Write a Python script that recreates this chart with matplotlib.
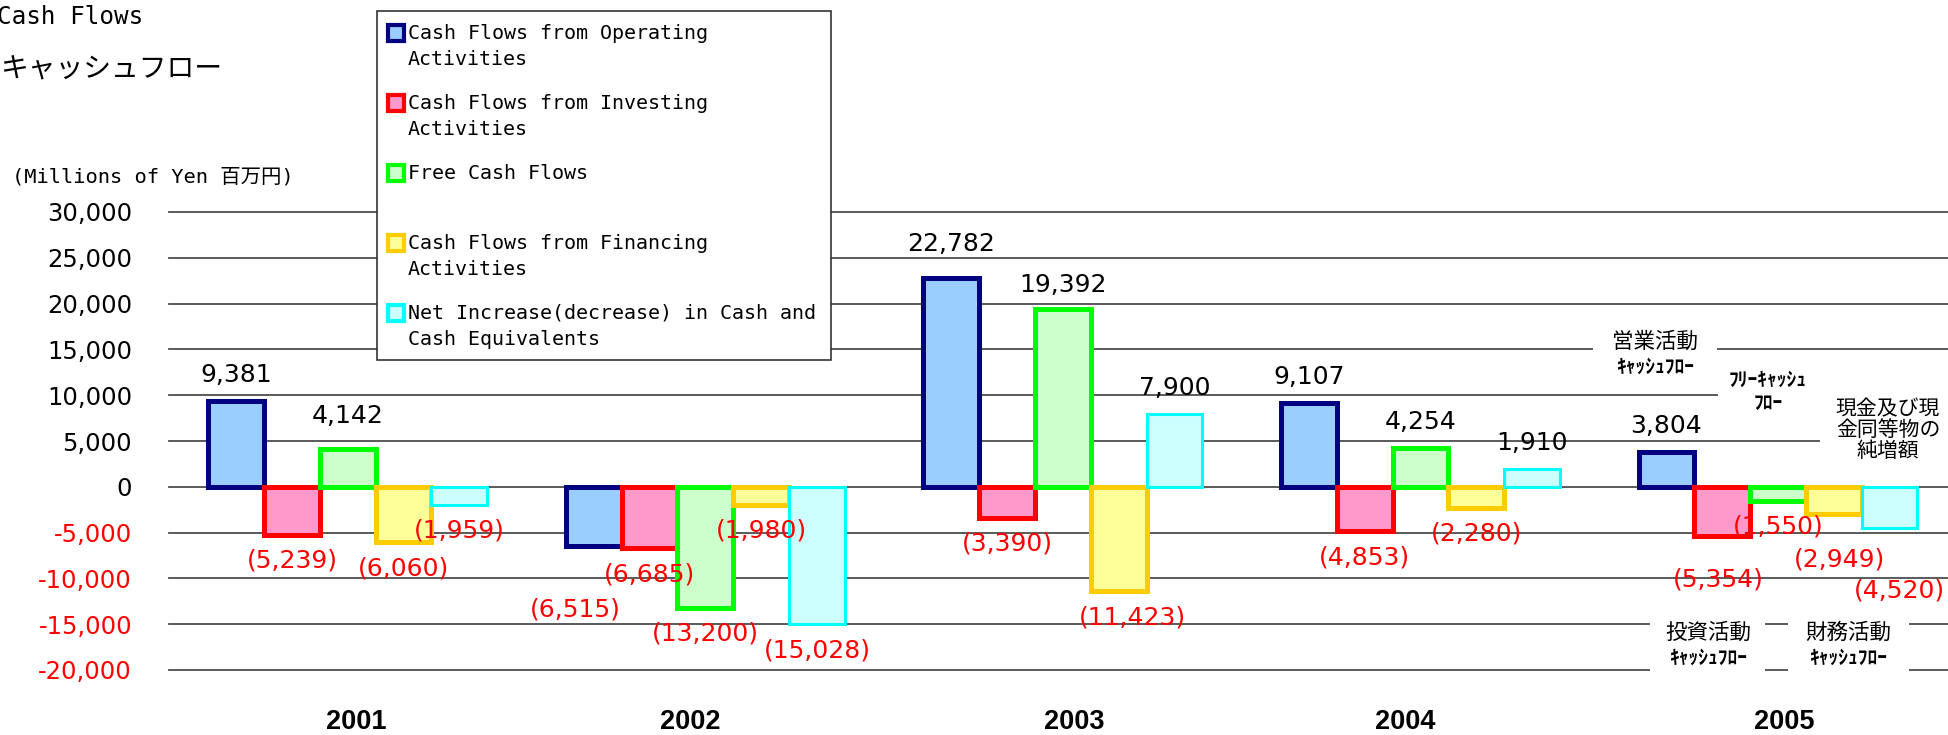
import matplotlib
matplotlib.use("Agg")
import matplotlib.pyplot as plt
from matplotlib.patches import Rectangle
from matplotlib.transforms import ScaledTranslation

# data (millions of yen)
years = ["2001", "2002", "2003", "2004", "2005"]
series_labels = [
    "Cash Flows from Operating\nActivities",
    "Cash Flows from Investing\nActivities",
    "Free Cash Flows\n ",
    "Cash Flows from Financing\nActivities",
    "Net Increase(decrease) in Cash and\nCash Equivalents",
]
operating = [9381, -6515, 22782, 9107, 3804]
investing = [-5239, -6685, -3390, -4853, -5354]
free_cf = [4142, -13200, 19392, 4254, -1550]
financing = [-6060, -1980, -11423, -2280, -2949]
net_change = [-1959, -15028, 7900, 1910, -4520]
yticks = [30000, 25000, 20000, 15000, 10000, 5000, 0, -5000, -10000, -15000, -20000]

face_colors = ["#99CCFF", "#FF99CC", "#CCFFCC", "#FFFF99", "#CCFFFF"]
edge_colors = ["#000080", "#FF0000", "#00FF00", "#FFCC00", "#00FFFF"]
edge_widths = [3.6, 3.6, 3.6, 3.6, 2.2]

# label nudges in pixels (series index, year index) -> (dx, dy)
label_shift = {
    (0, 1): (-18, 37), (2, 0): (0, 7), (0, 2): (0, 8), (2, 2): (0, -2),
    (3, 2): (14, 0), (1, 4): (-4, 18), (3, 4): (6, 20), (4, 4): (10, 36),
}
year_shift = [8, -15, 11, -15, 6]

W, H = 1948, 735
fig = plt.figure(figsize=(W / 100, H / 100), dpi=100)


def fx(x):
    return x / W


def fy(y):
    return 1 - y / H


ax = fig.add_axes([fx(169), fy(670), 1 - fx(169), fy(212) - fy(670)])
ax.set_xlim(-0.5, 4.4755)
ax.set_ylim(-20000, 30000)
for s in ax.spines.values():
    s.set_visible(False)

for v in yticks:
    ax.axhline(v, color="#4d4d4d", lw=1.3, zorder=0, clip_on=False)

all_series = [operating, investing, free_cf, financing, net_change]
w = 0.156
for i, vals in enumerate(all_series):
    xs = [j + (i - 2) * w for j in range(len(years))]
    ax.bar(xs, vals, width=w, color=face_colors[i], edgecolor=edge_colors[i],
           linewidth=edge_widths[i], zorder=2)
    for j, v in enumerate(vals):
        dx, dy = label_shift.get((i, j), (0, 0))
        if v >= 0:
            txt, col, off = f"{v:,}", "black", 26 + dy
        else:
            txt, col, off = f"({-v:,})", "red", -(26 + dy)
        ax.annotate(txt, xy=(xs[j], v), xytext=(dx, off), textcoords="offset pixels",
                    ha="center", va="center", fontsize=18, color=col,
                    family="DejaVu Sans", zorder=4)

ax.set_yticks(yticks)
ax.set_yticklabels([f"{v:,}" for v in yticks], fontsize=17.5, family="DejaVu Sans")
for lbl, v in zip(ax.get_yticklabels(), yticks):
    if v < 0:
        lbl.set_color("red")
ax.tick_params(axis="y", length=0, pad=26.6)

ax.set_xticks(range(len(years)))
ax.set_xticklabels(years, fontsize=19.5, fontweight="bold", family="Liberation Sans")
ax.tick_params(axis="x", length=0, pad=28)
for lbl, dx in zip(ax.get_xticklabels(), year_shift):
    lbl.set_transform(lbl.get_transform() + ScaledTranslation(dx / 100, 0, fig.dpi_scale_trans))

# titles
mono_cjk = ["DejaVu Sans Mono", "Noto Sans CJK JP"]
fig.text(fx(-3), fy(17), "Cash Flows", fontsize=17.5, family=mono_cjk, va="center", ha="left")
fig.text(fx(0), fy(70), "キャッシュフロー", fontsize=20, family=["Noto Sans CJK JP"], va="center", ha="left")
fig.text(fx(12), fy(177), "(Millions of Yen 百万円)", fontsize=14.7, family=mono_cjk, va="center", ha="left")

# legend box (drawn by hand so the marker sits on the first line)
fig.add_artist(Rectangle((fx(377), fy(360)), fx(831) - fx(377), fy(11) - fy(360),
                         transform=fig.transFigure, facecolor="white", edgecolor="#333333",
                         lw=1.2, zorder=5))
for i, lab in enumerate(series_labels):
    yc = 33 + 70 * i
    fig.add_artist(Rectangle((fx(388), fy(yc + 8)), fx(16), fy(0) - fy(16),
                             transform=fig.transFigure, facecolor=face_colors[i],
                             edgecolor=edge_colors[i], lw=3, zorder=6))
    fig.text(fx(408), fy(yc - 9), lab, fontsize=14.4, family="DejaVu Sans Mono",
             va="top", ha="left", linespacing=1.45, zorder=6)

# Japanese notes on the right
notes = [
    ((1593, 330, 1717, 381), (1655, 342), "営業活動", (1655, 367), "ｷｬｯｼｭﾌﾛｰ"),
    ((1718, 383, 1820, 412), (1768, 380), "ﾌﾘｰｷｬｯｼｭ", (1768, 403), "ﾌﾛｰ"),
    ((1650, 615, 1765, 675), (1708, 633), "投資活動", (1708, 658), "ｷｬｯｼｭﾌﾛｰ"),
    ((1788, 615, 1909, 675), (1848, 633), "財務活動", (1848, 658), "ｷｬｯｼｭﾌﾛｰ"),
]
for (x0, y0, x1, y1), p1, t1, p2, t2 in notes:
    fig.add_artist(Rectangle((fx(x0), fy(y1)), fx(x1 - x0), fy(y0) - fy(y1),
                             transform=fig.transFigure, facecolor="white", edgecolor="none", zorder=5))
    big = t1 != "ﾌﾘｰｷｬｯｼｭ"
    fig.text(fx(p1[0]), fy(p1[1]), t1, fontsize=15.5 if big else 14, family="Noto Sans CJK JP",
             ha="center", va="center", zorder=6, fontweight="normal" if big else "bold")
    fig.text(fx(p2[0]), fy(p2[1]), t2, fontsize=14, family="Noto Sans CJK JP",
             ha="center", va="center", zorder=6, fontweight="bold")

fig.add_artist(Rectangle((fx(1820), fy(468)), fx(1948 - 1820), fy(385) - fy(468),
                         transform=fig.transFigure, facecolor="white", edgecolor="none", zorder=5))
fig.text(fx(1888), fy(430), "現金及び現\n金同等物の\n純増額", fontsize=15, family="Noto Sans CJK JP",
         ha="center", va="center", linespacing=0.95, zorder=6)

fig.savefig("out.png", dpi=100)
